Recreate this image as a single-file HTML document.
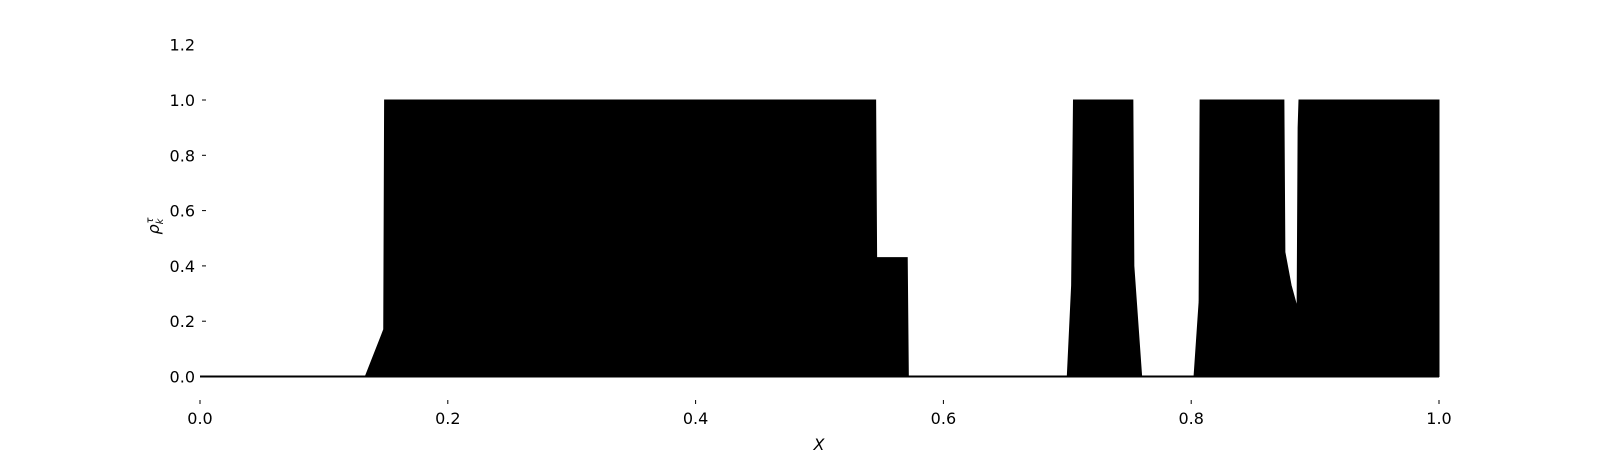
<!DOCTYPE html>
<html><head><meta charset="utf-8"><style>
body{margin:0;background:#fff}
svg{display:block}
text{font-family:"DejaVu Sans","Liberation Sans",sans-serif;font-size:16px;fill:#000}
</style></head><body>
<svg id="chart" width="1600" height="450">
<g id="plot"></g>
<g id="axes"></g>
</svg>
<script>
const xs=[0,0.1334,0.1483,0.149,0.5453,0.5461,0.5708,0.5717,0.700,0.7035,0.705,0.7529,0.7537,0.760,0.8023,0.8064,0.8072,0.8748,0.8756,0.8806,0.8855,0.8863,0.887,1.0];
const ys=[0,0,0.17,1.0,1.0,0.43,0.43,0,0,0.33,1.0,1.0,0.4,0,0,0.27,1.0,1.0,0.45,0.33,0.25,0.9,1.0,1.0];
const xTicks=[0,0.2,0.4,0.6,0.8,1.0];
const yTicks=[0,0.2,0.4,0.6,0.8,1.0];
const xTickLabels=["0.0","0.2","0.4","0.6","0.8","1.0"];
const yTickLabels=["0.0","0.2","0.4","0.6","0.8","1.0"];
const NS="http://www.w3.org/2000/svg";
const X=v=>200+1239*v, Y=v=>376.5-276.5*v;
const plot=document.getElementById('plot'), axes=document.getElementById('axes');
function mk(tag,attrs,parent){const e=document.createElementNS(NS,tag);for(const k in attrs)e.setAttribute(k,attrs[k]);parent.appendChild(e);return e;}
let d='M'+X(xs[0])+','+Y(0);
xs.forEach((x,i)=>{d+=' L'+X(x)+','+Y(ys[i]);});
d+=' L'+X(xs[xs.length-1])+','+Y(0)+' Z';
const area=mk('path',{d:d,fill:'#000',stroke:'#000','stroke-width':1},plot);


const base=mk('line',{x1:X(0),x2:X(1),y1:Y(0),y2:Y(0),stroke:'#000','stroke-width':2},plot);


yTicks.forEach((v,i)=>{
 const t=mk('line',{x1:202,x2:206,y1:Y(v),y2:Y(v),stroke:'#000','stroke-width':1},axes);
 
 
 const l=mk('text',{x:195,y:Y(v)+6,'text-anchor':'end'},axes);l.textContent=yTickLabels[i];
 
 
});
const topLabel=mk('text',{x:195,y:Y(1.2)+6,'text-anchor':'end'},axes);topLabel.textContent="1.2";


xTicks.forEach((v,i)=>{
 const t=mk('line',{x1:X(v),x2:X(v),y1:400,y2:404,stroke:'#000','stroke-width':1},axes);
 
 
 const l=mk('text',{x:X(v),y:424,'text-anchor':'middle'},axes);l.textContent=xTickLabels[i];
 
 
});
const xl=mk('text',{x:819,y:450,'text-anchor':'middle','font-family':'Liberation Serif, serif','font-style':'italic'},axes);xl.textContent="X";


const yl=mk('text',{x:0,y:0,'text-anchor':'middle','font-family':'Liberation Serif, serif','font-style':'italic',transform:'translate(159,226) rotate(-90)'},axes);
yl.innerHTML='ρ<tspan font-size="10" dy="4">k</tspan><tspan font-size="10" dy="-10" dx="-5">τ</tspan>';


</script>
</body></html>
